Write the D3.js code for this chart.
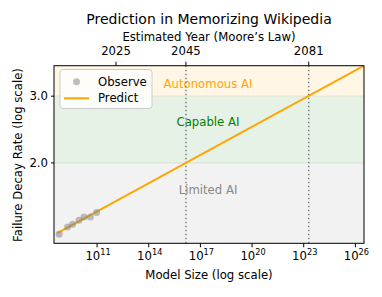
<!DOCTYPE html>
<html><head><meta charset="utf-8">
<script src="https://cdn.jsdelivr.net/npm/d3@7"></script>
<style>body{margin:0;background:#fff}svg{display:block;font-family:"DejaVu Sans",sans-serif}</style>
</head><body>
<script>
// Observed model sizes and failure decay rates
const observeSize = [6.3e8, 1.95e9, 3.8e9, 8.9e9, 1.74e10, 4.1e10, 9.5e10];
const observeRate = [1.296, 1.355, 1.377, 1.412, 1.44, 1.44, 1.479];
// Predicted trend (endpoints)
const predictSize = [4.9e8, 3.16e26];
const predictRate = [1.305, 3.61];
// Bottom axis ticks
const xTickExp = [11, 14, 17, 20, 23, 26];
// Top axis: estimated year ticks and their model sizes
const yearTicks = ["2025", "2045", "2081"];
const yearSizes = [1.26e12, 1.45e16, 1.95e23];
// Threshold lines (years)
const thresholdSizes = [1.45e16, 1.95e23];
// Y axis ticks
const yTicks = [2.0, 3.0];
// Capability bands
const bandNames = ["Limited AI", "Capable AI", "Autonomous AI"];
const bandLow = [1.0, 2.0, 3.0];
const bandHigh = [2.0, 3.0, 10.0];
const bandFill = ["#f2f2f2", "#e6f2e6", "#fff6e6"];
const bandText = ["#888888", "#008000", "#ffa500"];
const bandLabelRate = [1.70, 2.57, 3.23];

const W = 382, H = 297;
const L = 54, R = 364, T = 65.7, B = 243.3;
const svg = d3.select("body").append("svg").attr("width", W).attr("height", H);
svg.append("rect").attr("width", W).attr("height", H).attr("fill", "#fff");

const x = d3.scaleLog().domain([Math.pow(10, 8.5), Math.pow(10, 26.5)]).range([L, R]);
const y = d3.scaleLog().domain([1.227, 3.61]).range([B, T]);

svg.append("clipPath").attr("id", "clip").append("rect")
  .attr("x", L).attr("y", T).attr("width", R - L).attr("height", B - T);
const g = svg.append("g").attr("clip-path", "url(#clip)");

// bands
bandNames.forEach((n, i) => {
  const y0 = y(Math.min(bandHigh[i], y.domain()[1]));
  const y1 = y(Math.max(bandLow[i], y.domain()[0]));
  g.append("rect").attr("x", L).attr("width", R - L).attr("y", y0).attr("height", y1 - y0).attr("fill", bandFill[i]);
});
g.append("line").attr("x1", L).attr("x2", R).attr("y1", y(3.0)).attr("y2", y(3.0)).attr("stroke", "#e1ead2").attr("stroke-width", 1.2);
g.append("line").attr("x1", L).attr("x2", R).attr("y1", y(2.0)).attr("y2", y(2.0)).attr("stroke", "#d6e8d6").attr("stroke-width", 1.2);

// band labels
bandNames.forEach((n, i) => {
  g.append("text").attr("x", 208).attr("y", y(bandLabelRate[i])).attr("dy", "0.35em")
    .attr("text-anchor", "middle").attr("font-size", 11.7).attr("fill", bandText[i]).text(n);
});

// threshold dotted lines
thresholdSizes.forEach(s => {
  g.append("line").attr("x1", x(s)).attr("x2", x(s)).attr("y1", T).attr("y2", B)
    .attr("stroke", "#808080").attr("stroke-width", 1.5).attr("stroke-dasharray", "1.5,2.5");
});

// predict line
const line = d3.line().x(d => x(d[0])).y(d => y(d[1]));
g.append("path").datum(predictSize.map((s, i) => [s, predictRate[i]]))
  .attr("d", line).attr("fill", "none").attr("stroke", "#ffa500").attr("stroke-width", 2);

// observe points
g.selectAll("circle.obs").data(observeSize.map((s, i) => [s, observeRate[i]])).enter()
  .append("circle").attr("cx", d => x(d[0])).attr("cy", d => y(d[1])).attr("r", 3.5)
  .attr("fill", "#808080").attr("fill-opacity", 0.5);

// frame
svg.append("rect").attr("x", L).attr("y", T).attr("width", R - L).attr("height", B - T)
  .attr("fill", "none").attr("stroke", "#000").attr("stroke-width", 1);

// bottom axis
const bx = svg.append("g");
xTickExp.forEach(e => {
  const px = x(Math.pow(10, e));
  bx.append("line").attr("x1", px).attr("x2", px).attr("y1", B).attr("y2", B + 4).attr("stroke", "#000");
  const t = bx.append("text").attr("x", px + 1).attr("y", 260).attr("text-anchor", "middle").attr("font-size", 11.7).attr("fill", "#000");
  t.append("tspan").text("10");
  t.append("tspan").attr("font-size", 8.2).attr("dy", -5).text(String(e));
});
svg.append("text").attr("x", 209).attr("y", 279).attr("text-anchor", "middle").attr("font-size", 11.7).text("Model Size (log scale)");

// top axis
yearTicks.forEach((yr, i) => {
  const px = x(yearSizes[i]);
  svg.append("line").attr("x1", px).attr("x2", px).attr("y1", T).attr("y2", T - 4).attr("stroke", "#000");
  svg.append("text").attr("x", px).attr("y", 55).attr("text-anchor", "middle").attr("font-size", 11.7).text(yr);
});
svg.append("text").attr("x", 209).attr("y", 41).attr("text-anchor", "middle").attr("font-size", 11.7).text("Estimated Year (Moore’s Law)");
svg.append("text").attr("x", 209).attr("y", 24).attr("text-anchor", "middle").attr("font-size", 14).text("Prediction in Memorizing Wikipedia");

// left axis
yTicks.forEach(v => {
  const py = y(v);
  svg.append("line").attr("x1", L).attr("x2", L - 3).attr("y1", py).attr("y2", py).attr("stroke", "#000");
  svg.append("text").attr("x", L - 6).attr("y", py).attr("dy", "0.35em").attr("text-anchor", "end").attr("font-size", 11.7).text(d3.format(".1f")(v));
});
svg.append("text").attr("transform", "translate(22,155) rotate(-90)").attr("text-anchor", "middle").attr("font-size", 11.7).text("Failure Decay Rate (log scale)");

// legend
const lg = svg.append("g");
lg.append("rect").attr("x", 60).attr("y", 69.5).attr("width", 92).attr("height", 39).attr("rx", 3)
  .attr("fill", "#fff").attr("fill-opacity", 0.8).attr("stroke", "#cccccc").attr("stroke-width", 1);
lg.append("circle").attr("cx", 76.5).attr("cy", 81.7).attr("r", 3.5).attr("fill", "#808080").attr("fill-opacity", 0.5);
lg.append("line").attr("x1", 64).attr("x2", 89).attr("y1", 98.3).attr("y2", 98.3).attr("stroke", "#ffa500").attr("stroke-width", 2);
lg.append("text").attr("x", 98).attr("y", 81.7).attr("dy", "0.35em").attr("font-size", 11.7).text("Observe");
lg.append("text").attr("x", 98).attr("y", 98.3).attr("dy", "0.35em").attr("font-size", 11.7).text("Predict");
</script>
</body></html>
